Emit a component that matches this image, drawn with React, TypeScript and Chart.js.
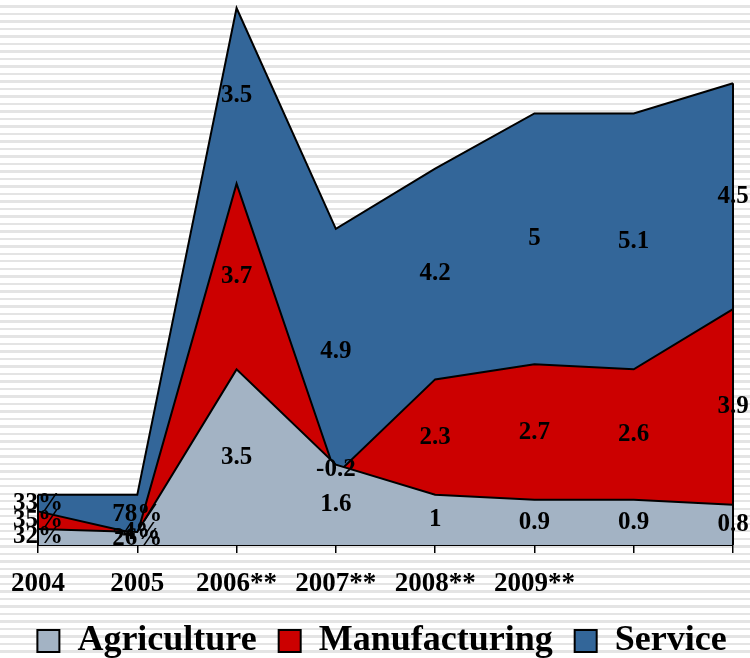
import React, { useEffect, useRef } from "react";
import { Chart, registerables } from "chart.js";

Chart.register(...registerables);

const categories = ["2004", "2005", "2006**", "2007**", "2008**", "2009**", "", ""];
const agriculture = [0.32, 0.26, 3.5, 1.6, 1, 0.9, 0.9, 0.8];
const manufacturing = [0.35, -0.04, 3.7, -0.2, 2.3, 2.7, 2.6, 3.9];
const service = [0.33, 0.78, 3.5, 4.9, 4.2, 5, 5.1, 4.5];
const percentColumns = [0, 1];
const seriesNames = ["Agriculture", "Manufacturing", "Service"];
const seriesValues = [agriculture, manufacturing, service];
const seriesColors = ["#A3B3C4", "#CC0000", "#336699"];

const FONT = "'Liberation Serif', 'Times New Roman', serif";

function fmt(v: number, j: number): string {
  if (percentColumns.includes(j)) return Math.round(v * 100) + "%";
  return String(v);
}

const legendShift = {
  id: "legendShift",
  afterLayout(chart: any) {
    if (chart.legend) {
      chart.legend.left += 7;
      chart.legend.right += 7;
    }
  },
};

const bandLabels = {
  id: "bandLabels",
  afterDatasetsDraw(chart: any) {
    const ctx = chart.ctx;
    const yScale = chart.scales.y;
    const base = yScale.getPixelForValue(0);
    ctx.save();
    const lastMeta = chart.getDatasetMeta(chart.data.datasets.length - 1);
    const pts = lastMeta.data;
    ctx.strokeStyle = "#000";
    ctx.lineWidth = 2;
    [pts[0], pts[pts.length - 1]].forEach((p: any) => {
      ctx.beginPath();
      ctx.moveTo(p.x, p.y);
      ctx.lineTo(p.x, base);
      ctx.stroke();
    });
    ctx.font = `bold 25px ${FONT}`;
    ctx.fillStyle = "#000";
    ctx.textAlign = "center";
    ctx.textBaseline = "middle";
    chart.data.datasets.forEach((ds: any, i: number) => {
      const meta = chart.getDatasetMeta(i);
      const prev = i > 0 ? chart.getDatasetMeta(i - 1) : null;
      meta.data.forEach((pt: any, j: number) => {
        const top = pt.y;
        const bot = prev ? prev.data[j].y : base;
        ctx.fillText(fmt(ds.data[j], j), pt.x, (top + bot) / 2);
      });
    });
    ctx.restore();
  },
};

export default function App() {
  const ref = useRef<HTMLCanvasElement>(null);
  useEffect(() => {
    if (!ref.current) return;
    const chart = new Chart(ref.current, {
      type: "line",
      data: {
        labels: categories,
        datasets: seriesNames.map((name, i) => ({
          label: name,
          data: seriesValues[i],
          fill: i === 0 ? "origin" : "-1",
          backgroundColor: seriesColors[i],
          borderColor: "#000",
          borderWidth: 2,
          pointRadius: 0,
          pointHoverRadius: 0,
          tension: 0,
          yAxisID: "y",
        })),
      },
      options: {
        animation: false,
        responsive: false,
        layout: { padding: 0, autoPadding: false },
        scales: {
          x: {
            type: "category",
            offset: false,
            grid: { display: true, drawOnChartArea: false, drawTicks: true, tickLength: 8, color: "#000", lineWidth: 1.5 },
            border: { display: true, color: "#000", width: 2 },
            ticks: {
              autoSkip: false,
              maxRotation: 0,
              color: "#000",
              padding: 15,
              font: { family: FONT, size: 27, weight: "bold" },
            },
            afterFit: (s: any) => {
              s.height = 56;
              s.paddingLeft = 0;
              s.paddingRight = 0;
            },
          },
          y: {
            display: true,
            position: "left",
            stacked: "single",
            min: 0,
            max: 10.86,
            grid: { display: false },
            border: { display: false },
            ticks: { display: false },
            afterFit: (s: any) => {
              s.width = 38;
            },
          },
          yr: {
            display: true,
            position: "right",
            min: 0,
            max: 1,
            grid: { display: false },
            border: { display: false },
            ticks: { display: false },
            afterFit: (s: any) => {
              s.width = 17;
            },
          },
        },
        plugins: {
          legend: {
            position: "bottom",
            labels: {
              color: "#000",
              boxWidth: 22,
              boxHeight: 22,
              padding: 22,
              font: { family: FONT, size: 36, weight: "bold" },
            },
          },
          tooltip: { enabled: false },
        },
      } as any,
      plugins: [bandLabels, legendShift],
    });
    return () => chart.destroy();
  }, []);
  return (
    <div
      style={{
        position: "absolute",
        left: 0,
        top: 0,
        width: 750,
        height: 658,
        overflow: "hidden",
        background:
          "repeating-linear-gradient(to bottom, #ffffff 0px, #ffffff 5px, #e4e4e4 5px, #e4e4e4 7.5px)",
      }}
    >
      <canvas ref={ref} width={750} height={669} style={{ display: "block" }} />
    </div>
  );
}
